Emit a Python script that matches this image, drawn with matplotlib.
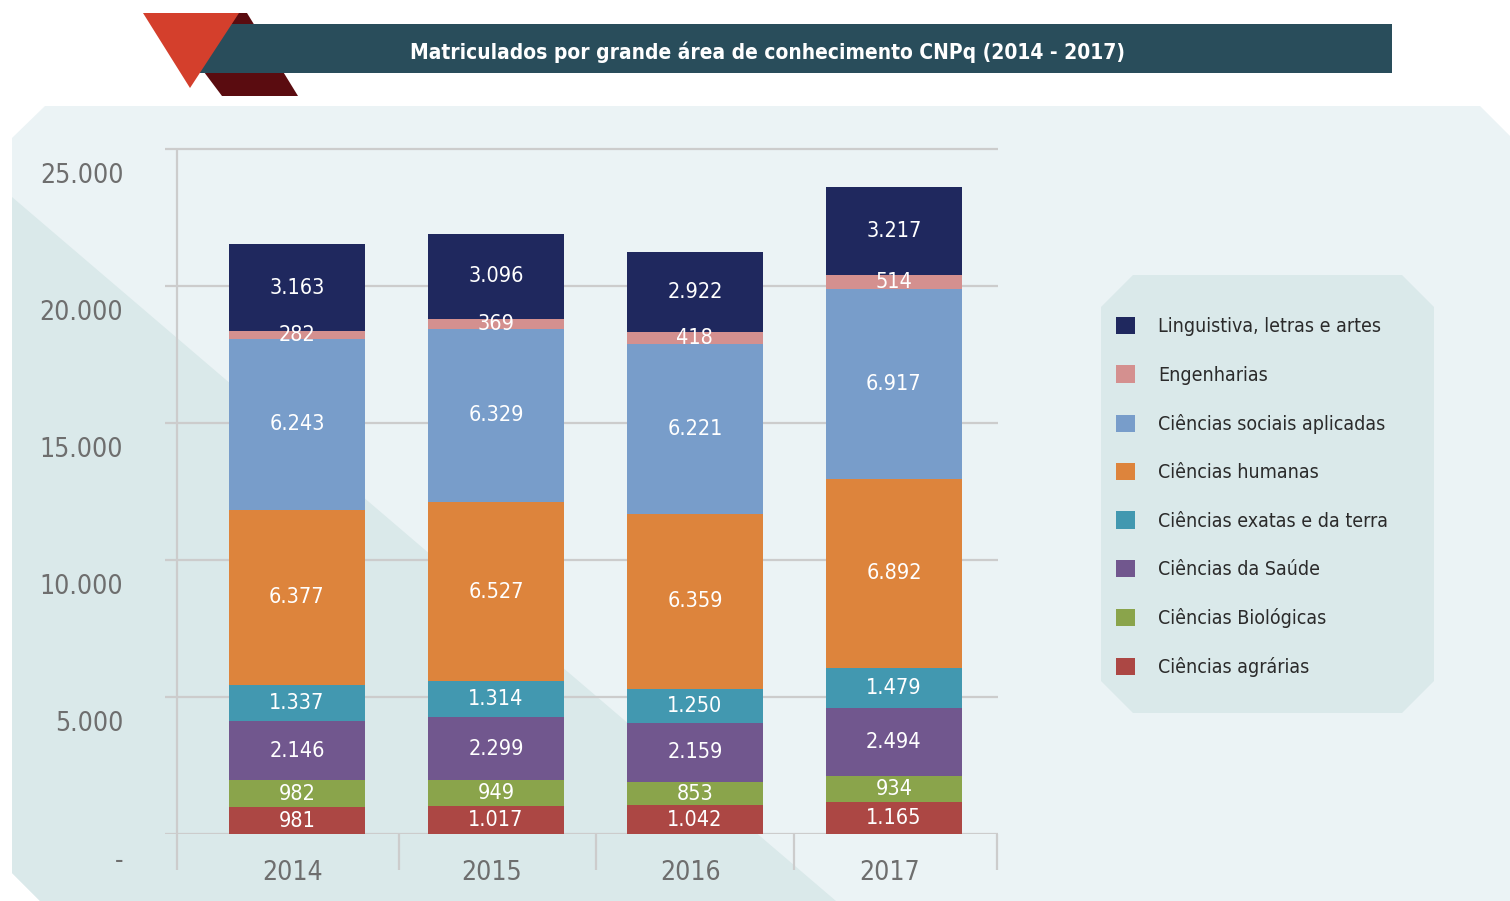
import matplotlib
matplotlib.use("Agg")
import matplotlib.pyplot as plt
from matplotlib.patches import Polygon, Rectangle
from matplotlib.transforms import ScaledTranslation

plt.rcParams['font.family'] = ['DejaVu Sans']
plt.rcParams['font.stretch'] = 'condensed'

years = ['2014', '2015', '2016', '2017']
# stacked from bottom to top
areas = ['Ciências agrárias', 'Ciências Biológicas', 'Ciências da Saúde',
         'Ciências exatas e da terra', 'Ciências humanas',
         'Ciências sociais aplicadas', 'Engenharias', 'Linguistiva, letras e artes']
agrarias = [981, 1017, 1042, 1165]
biologicas = [982, 949, 853, 934]
saude = [2146, 2299, 2159, 2494]
exatas = [1337, 1314, 1250, 1479]
humanas = [6377, 6527, 6359, 6892]
sociais = [6243, 6329, 6221, 6917]
engenharias = [282, 369, 418, 514]
linguistiva = [3163, 3096, 2922, 3217]
series = [agrarias, biologicas, saude, exatas, humanas, sociais, engenharias, linguistiva]
colors = ['#AC4744', '#8AA44B', '#71578E', '#4298B0', '#DD843C',
          '#789DCA', '#D4908F', '#1F285E']
yticks = [0, 5000, 10000, 15000, 20000, 25000]
yticklabels = ['-', '5.000', '10.000', '15.000', '20.000', '25.000']
title = 'Matriculados por grande área de conhecimento CNPq (2014 - 2017)'

W, H = 1510, 901
fig = plt.figure(figsize=(W / 100, H / 100), dpi=100)

# background decorations in pixel coordinates
bg = fig.add_axes([0, 0, 1, 1])
bg.set_xlim(0, W)
bg.set_ylim(H, 0)
bg.axis('off')
bg.add_patch(Polygon([(12, 138), (45, 106), (1480, 106), (1510, 136), (1510, 901),
                      (40, 901), (12, 873)], closed=True, color='#EBF3F5', lw=0))
bg.add_patch(Polygon([(12, 197), (836, 901), (40, 901), (12, 873)],
                     closed=True, color='#DAE9EA', lw=0))
bg.add_patch(Polygon([(1133, 275), (1402, 275), (1434, 307), (1434, 681), (1402, 713),
                      (1133, 713), (1101, 681), (1101, 307)], closed=True,
                     color='#DAE9EA', lw=0))
# title banner
bg.add_patch(Polygon([(226, 13), (247, 13), (298, 96), (222, 96), (195, 60)],
                     closed=True, color='#5A0C10', lw=0))
bg.add_patch(Rectangle((200, 24), 1192, 49, color='#294D5B', lw=0))
bg.add_patch(Polygon([(143, 13), (239, 13), (190, 88)], closed=True, color='#D43F2C', lw=0))
bg.text(767, 52, title, color='white', fontsize=15, fontweight='bold',
        ha='center', va='center')

# chart axes
left, right, top, bottom = 165, 998, 146, 834
ax = fig.add_axes([left / W, (H - bottom) / H, (right - left) / W, (bottom - top) / H])
ax.patch.set_alpha(0)
x = [0, 1, 2, 3]
ax.set_xlim(-0.663, 3.523)
ax.set_ylim(0, 25100)
for s in ax.spines.values():
    s.set_visible(False)
ax.set_axisbelow(True)
ax.yaxis.grid(True, color='#CCCCCC', lw=1.6)
ax.vlines(-0.603, -1300, 25000, color='#CCCCCC', lw=1.6, clip_on=False)
ax.vlines([0.513, 1.503, 2.497, 3.52], -1300, 0, color='#CCCCCC', lw=1.6, clip_on=False)

containers = []
base = [0, 0, 0, 0]
for vals, c in zip(series, colors):
    bc = ax.bar(x, vals, bottom=base, width=0.68, color=c, lw=0, zorder=3)
    containers.append(bc)
    for xi, v, b in zip(x, vals, base):
        ax.text(xi, b + v / 2, f'{v:,}'.replace(',', '.'), color='white',
                fontsize=15.5, ha='center', va='center', zorder=4)
    base = [b + v for b, v in zip(base, vals)]

ax.set_yticks(yticks)
ax.set_yticklabels(yticklabels, fontsize=19, color='#6E6E6E')
ax.set_xticks(x)
ax.set_xticklabels(years, fontsize=19, color='#6E6E6E')
ax.tick_params(axis='both', length=0)
ax.tick_params(axis='y', pad=30)
ax.tick_params(axis='x', pad=19)
for lbl in ax.get_yticklabels():
    lbl.set_transform(lbl.get_transform() + ScaledTranslation(0, -0.24, fig.dpi_scale_trans))
for lbl in ax.get_xticklabels():
    lbl.set_transform(lbl.get_transform() + ScaledTranslation(-0.04, 0, fig.dpi_scale_trans))

leg = fig.legend(containers[::-1], areas[::-1], loc='upper left',
                 bbox_to_anchor=(1116 / W, (H - 317) / H), frameon=False,
                 fontsize=14, labelcolor='#2B2B2B', handlelength=0.98, handleheight=0.98,
                 handletextpad=1.19, labelspacing=1.5, borderpad=0, borderaxespad=0)

fig.savefig('out.png', dpi=100)
